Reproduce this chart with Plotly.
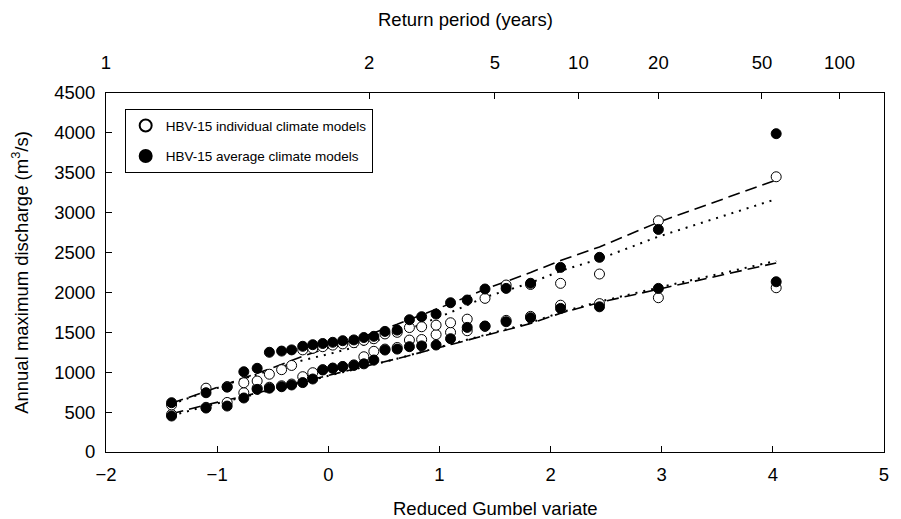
import math
import plotly.graph_objects as go

# ---- data ----
x_pos = [-1.41, -1.10, -0.91, -0.76, -0.64, -0.53, -0.42, -0.33, -0.23, -0.14,
         -0.05, 0.04, 0.13, 0.23, 0.32, 0.41, 0.51, 0.62, 0.73, 0.84,
         0.97, 1.10, 1.25, 1.41, 1.60, 1.82, 2.09, 2.44, 2.97, 4.03]

upper_individual = [590, 800, 820, 868, 890, 975, 1032, 1085, 1280, 1300,
                    1320, 1340, 1355, 1370, 1400, 1420, 1480, 1500, 1560, 1570,
                    1590, 1620, 1665, 1926, 2093, 2100, 2114, 2231, 2899, 3450]
upper_average = [618, 743, 813, 1006, 1049, 1250, 1265, 1280, 1325, 1345,
                 1360, 1375, 1395, 1405, 1435, 1450, 1512, 1528, 1658, 1696,
                 1729, 1871, 1905, 2043, 2051, 2115, 2314, 2440, 2790, 3990]
lower_individual = [470, 560, 621, 743, 800, 812, 830, 852, 944, 994,
                    1032, 1052, 1072, 1092, 1194, 1262, 1290, 1310, 1403, 1410,
                    1472, 1500, 1520, 1575, 1650, 1700, 1840, 1860, 1934, 2059]
lower_average = [451, 551, 576, 677, 785, 800, 818, 840, 870, 915,
                 1028, 1049, 1069, 1085, 1105, 1153, 1278, 1290, 1320, 1330,
                 1341, 1420, 1562, 1579, 1633, 1683, 1800, 1820, 2051, 2134]

fit_x = [-1.41, -1.10, -0.76, -0.53, -0.23, 0.04, 0.32, 0.62, 0.84, 1.10,
         1.41, 1.82, 2.09, 2.44, 2.97, 4.03]
upper_dash = [610, 760, 920, 1040, 1200, 1320, 1450, 1600, 1720, 1860,
              2040, 2250, 2400, 2570, 2880, 3410]
upper_dot = [600, 750, 920, 1020, 1150, 1240, 1345, 1480, 1600, 1750,
             1940, 2120, 2270, 2420, 2700, 3170]
lower_dash = [480, 590, 700, 780, 880, 970, 1070, 1170, 1250, 1345,
              1460, 1610, 1740, 1875, 2040, 2370]
lower_dot = [455, 575, 690, 770, 870, 965, 1065, 1170, 1255, 1350,
             1470, 1620, 1750, 1885, 2060, 2395]

return_periods = [1, 2, 5, 10, 20, 50, 100]
x_ticks = [-2, -1, 0, 1, 2, 3, 4, 5]
y_ticks = [0, 500, 1000, 1500, 2000, 2500, 3000, 3500, 4000, 4500]

FONT = "Liberation Sans, Arial, sans-serif"
FS = 18.5
X_RANGE = [-2, 5]


def gumbel(T):
    if T <= 1:
        return X_RANGE[0]
    return -math.log(-math.log(1 - 1 / T))


fig = go.Figure()

# fitted lines
for ys, dash, w in [(upper_dash, "12px,6px", 1.6), (upper_dot, "2px,6px", 2),
                    (lower_dash, "12px,6px", 1.6), (lower_dot, "2px,6px", 2)]:
    fig.add_trace(go.Scatter(x=fit_x, y=ys, mode="lines", showlegend=False,
                             line=dict(color="black", width=w, dash=dash),
                             hoverinfo="skip"))

open_marker = dict(symbol="circle", size=10, color="white",
                   line=dict(color="black", width=1))
fill_marker = dict(symbol="circle", size=10, color="black",
                   line=dict(color="black", width=1))

fig.add_trace(go.Scatter(x=x_pos, y=lower_individual, mode="markers",
                         marker=open_marker, showlegend=False))
fig.add_trace(go.Scatter(x=x_pos, y=upper_individual, mode="markers",
                         marker=open_marker, legendgroup="ind",
                         name="HBV-15 individual climate models"))
fig.add_trace(go.Scatter(x=x_pos, y=lower_average, mode="markers",
                         marker=fill_marker, showlegend=False))
fig.add_trace(go.Scatter(x=x_pos, y=upper_average, mode="markers",
                         marker=fill_marker, legendgroup="avg",
                         name="HBV-15 average climate models"))

# invisible trace to activate the top axis
fig.add_trace(go.Scatter(x=[X_RANGE[0]], y=[0], xaxis="x2", mode="markers",
                         marker=dict(opacity=0), showlegend=False,
                         hoverinfo="skip"))

fig.update_layout(
    width=901, height=519,
    margin=dict(l=106, r=14, t=93, b=67),
    paper_bgcolor="white", plot_bgcolor="white",
    font=dict(family=FONT, size=FS, color="black"),
    xaxis=dict(range=X_RANGE, tickvals=x_ticks, ticks="inside", ticklen=6,
               tickwidth=1, tickcolor="black", showline=True, linecolor="black",
               linewidth=1, mirror=True, showgrid=False, zeroline=False,
               ticklabelstandoff=6, tickfont=dict(size=FS)),
    xaxis2=dict(range=X_RANGE, overlaying="x", side="top",
                tickvals=[gumbel(t) for t in return_periods],
                ticktext=[str(t) for t in return_periods],
                ticks="inside", ticklen=6, tickwidth=1, tickcolor="black",
                showline=False, showgrid=False, zeroline=False,
                ticklabelstandoff=19, tickfont=dict(size=FS)),
    yaxis=dict(range=[0, 4500], tickvals=y_ticks, ticks="inside", ticklen=6,
               tickwidth=1, tickcolor="black", showline=True, linecolor="black",
               linewidth=1, mirror=True, showgrid=False, zeroline=False,
               ticklabelstandoff=6, tickfont=dict(size=FS)),
    legend=dict(x=0.024, y=0.955, xanchor="left", yanchor="top",
                bgcolor="white", bordercolor="black", borderwidth=1,
                font=dict(size=13.5), tracegroupgap=10,
                itemsizing="constant", itemwidth=30),
    showlegend=True,
    annotations=[
        dict(text="Reduced Gumbel variate", xref="paper", yref="paper",
             x=0.5, y=(452 - 508) / 359, xanchor="center", yanchor="middle",
             showarrow=False, font=dict(size=FS)),
        dict(text="Return period (years)", xref="paper", yref="paper",
             x=(467 - 106) / 781, y=(452 - 20) / 359, xanchor="center",
             yanchor="middle", showarrow=False, font=dict(size=FS)),
        dict(text="Annual maximum discharge (m<sup>3</sup>/s)", xref="paper",
             yref="paper", x=(19 - 106) / 781, y=0.5, xanchor="center",
             yanchor="middle", textangle=-90, showarrow=False,
             font=dict(size=FS)),
    ],
)

fig.write_html("out.html")
